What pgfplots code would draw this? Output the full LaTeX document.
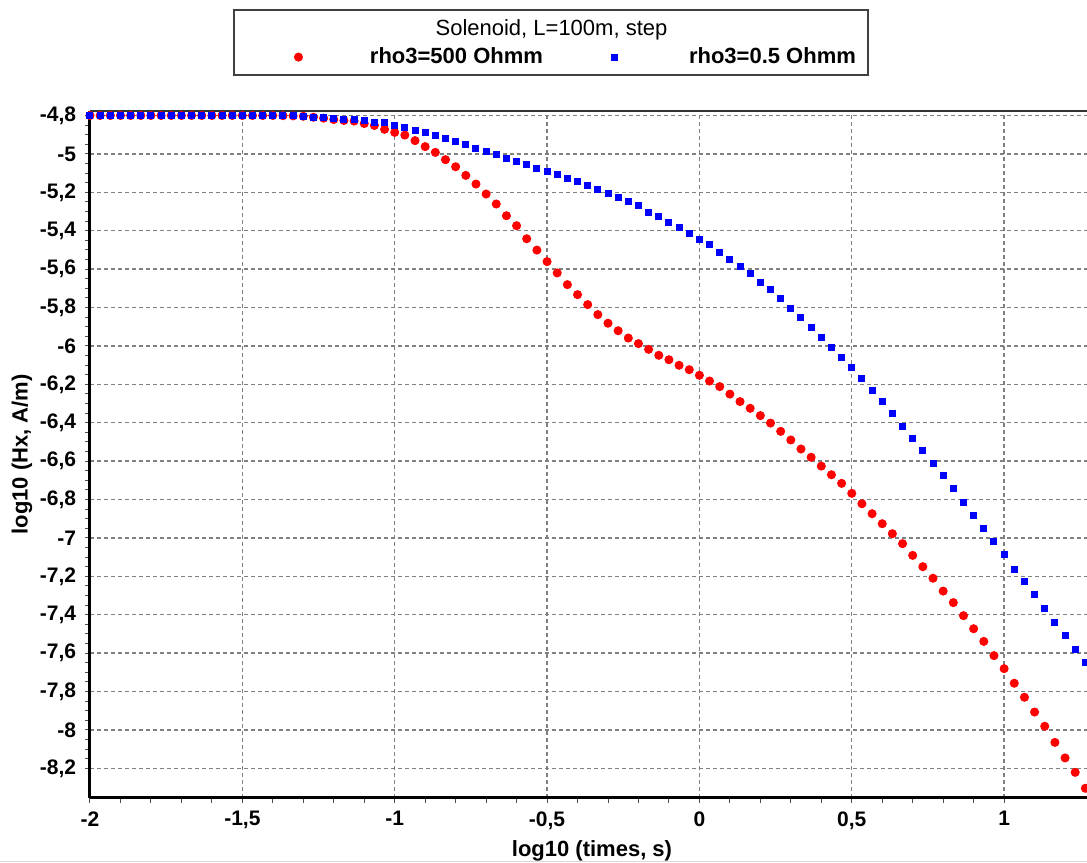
\documentclass[border=0pt]{standalone}
\usepackage{pgfplots}
\usepackage{pgfplotstable}
\pgfplotsset{compat=1.18}
\usepackage{fontspec}
\setmainfont{Liberation Sans}

% log10 time, log10 Hx for rho3=500 (r) and rho3=0.5 (b)
\pgfplotstableread{
t r b
-2.0000 -4.800 -4.800
-1.9667 -4.800 -4.800
-1.9333 -4.800 -4.800
-1.9000 -4.800 -4.800
-1.8667 -4.800 -4.800
-1.8333 -4.800 -4.800
-1.8000 -4.800 -4.800
-1.7667 -4.800 -4.800
-1.7333 -4.800 -4.800
-1.7000 -4.800 -4.800
-1.6667 -4.800 -4.800
-1.6333 -4.800 -4.800
-1.6000 -4.800 -4.800
-1.5667 -4.800 -4.800
-1.5333 -4.800 -4.800
-1.5000 -4.800 -4.800
-1.4667 -4.800 -4.800
-1.4333 -4.800 -4.800
-1.4000 -4.800 -4.800
-1.3667 -4.801 -4.800
-1.3333 -4.802 -4.801
-1.3000 -4.804 -4.803
-1.2667 -4.809 -4.808
-1.2333 -4.814 -4.812
-1.2000 -4.821 -4.815
-1.1667 -4.826 -4.819
-1.1333 -4.829 -4.823
-1.1000 -4.842 -4.826
-1.0667 -4.852 -4.836
-1.0333 -4.872 -4.839
-1.0000 -4.888 -4.853
-0.9667 -4.902 -4.860
-0.9333 -4.931 -4.876
-0.9000 -4.962 -4.889
-0.8667 -4.992 -4.905
-0.8333 -5.030 -4.921
-0.8000 -5.067 -4.935
-0.7667 -5.112 -4.950
-0.7333 -5.157 -4.973
-0.7000 -5.209 -4.988
-0.6667 -5.261 -5.002
-0.6333 -5.322 -5.025
-0.6000 -5.374 -5.040
-0.5667 -5.442 -5.054
-0.5333 -5.501 -5.077
-0.5000 -5.561 -5.093
-0.4667 -5.620 -5.108
-0.4333 -5.681 -5.129
-0.4000 -5.733 -5.145
-0.3667 -5.785 -5.167
-0.3333 -5.837 -5.183
-0.3000 -5.882 -5.205
-0.2667 -5.921 -5.228
-0.2333 -5.959 -5.249
-0.2000 -5.988 -5.271
-0.1667 -6.018 -5.303
-0.1333 -6.049 -5.325
-0.1000 -6.072 -5.355
-0.0667 -6.101 -5.384
-0.0333 -6.124 -5.414
0.0000 -6.153 -5.445
0.0333 -6.183 -5.474
0.0667 -6.212 -5.513
0.1000 -6.251 -5.549
0.1333 -6.290 -5.587
0.1667 -6.325 -5.625
0.2000 -6.363 -5.669
0.2333 -6.402 -5.707
0.2667 -6.445 -5.754
0.3000 -6.490 -5.806
0.3333 -6.537 -5.851
0.3667 -6.580 -5.903
0.4000 -6.626 -5.955
0.4333 -6.671 -6.007
0.4667 -6.716 -6.059
0.5000 -6.768 -6.112
0.5333 -6.822 -6.172
0.5667 -6.874 -6.231
0.6000 -6.926 -6.292
0.6333 -6.978 -6.351
0.6667 -7.030 -6.419
0.7000 -7.091 -6.480
0.7333 -7.150 -6.547
0.7667 -7.210 -6.615
0.8000 -7.277 -6.674
0.8333 -7.337 -6.742
0.8667 -7.405 -6.817
0.9000 -7.473 -6.884
0.9333 -7.539 -6.950
0.9667 -7.613 -7.018
1.0000 -7.681 -7.086
1.0333 -7.757 -7.162
1.0667 -7.830 -7.228
1.1000 -7.907 -7.296
1.1333 -7.981 -7.370
1.1667 -8.065 -7.438
1.2000 -8.146 -7.506
1.2333 -8.221 -7.580
1.2667 -8.304 -7.648
}\hxdata

\begin{document}
\begin{tikzpicture}
% page = 1087 x 863 px at 0.4pt per px
\path[use as bounding box] (0pt,0pt) rectangle (434.8pt,345.2pt);

% legend frame and title
\draw[black!75, line width=0.5pt] (93.6pt,315.2pt) rectangle (347.2pt,341.2pt);
\node[font=\fontsize{8.8}{10}\selectfont] at (220.6pt,333.2pt) {Solenoid, L=100m, step};
\draw[black!15, line width=0.6pt] (0pt,0.6pt) -- (434.8pt,0.6pt);

\begin{axis}[
    at={(36pt,26.12pt)}, anchor=south west,
    scale only axis,
    width=398.8pt, height=274.8pt,
    xmin=-2, xmax=1.272,
    ymin=-8.353, ymax=-4.775,
    axis lines=left,
    axis line style={-, line width=1.2pt, black},
    clip=false,
    xtick={-2,-1.5,-1,-0.5,0,0.5,1},
    ytick={-8.2,-8,-7.8,-7.6,-7.4,-7.2,-7,-6.8,-6.6,-6.4,-6.2,-6,-5.8,-5.6,-5.4,-5.2,-5,-4.8},
    minor x tick num=4,
    minor y tick num=3,
    tick align=outside,
    major tick length=2pt, minor tick length=2pt,
    tick style={black!70, line width=0.4pt},
    grid=major,
    major grid style={gray, dashed, line width=0.55pt, dash pattern=on 1.6pt off 1.2pt},
    /pgf/number format/assume math mode=true,
    /pgf/number format/use comma,
    /pgf/number format/fixed,
    ticklabel style={font=\fontsize{8.4}{10}\selectfont\bfseries},
    xlabel={log10 (times, s)},
    ylabel={log10 (Hx, A/m)},
    every axis x label/.style={at={(axis description cs:0.5035,-0.0776)}, anchor=center, font=\fontsize{8.8}{10}\selectfont\bfseries},
    every axis y label/.style={at={(axis description cs:-0.0682,0.5)}, rotate=90, anchor=center, font=\fontsize{8.8}{10}\selectfont\bfseries},
    legend columns=2,
    legend image code/.code={\path (-5pt,0pt) (5pt,0pt); \draw[#1] plot coordinates {(0pt,0pt)};},
    legend style={draw=none, fill=none, at={(axis description cs:0.513,1.078)}, anchor=center,
        font=\fontsize{8.8}{10}\selectfont\bfseries, inner sep=0pt},
]
\addplot[only marks, mark=*, mark size=1.6pt, color=red, mark options={fill=red, draw=red}] table[x=t, y=r] {\hxdata};
\addlegendentry{\makebox[112pt][c]{rho3=500 Ohmm}}
\addplot[only marks, mark=square*, mark size=1.2pt, color=blue, mark options={fill=blue, draw=blue}] table[x=t, y=b] {\hxdata};
\addlegendentry{\makebox[112pt][c]{rho3=0.5 Ohmm}}
\draw[black!80, line width=0.8pt] (rel axis cs:0,1) -- (rel axis cs:1,1);
\end{axis}
\end{tikzpicture}
\end{document}
